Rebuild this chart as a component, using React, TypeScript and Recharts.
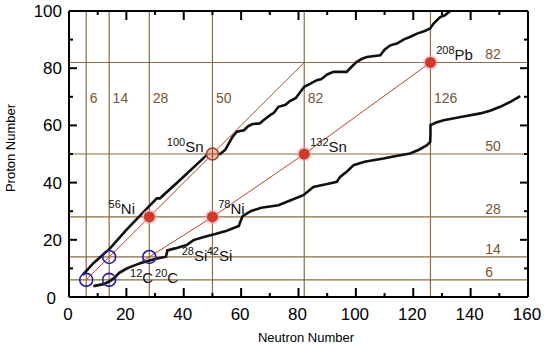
import { ComposedChart, Line, Scatter, XAxis, YAxis, ReferenceLine } from "recharts";

const FONT = "'Liberation Sans', Arial, Helvetica, sans-serif";
const MAGIC_COLOR = "#8a6c48";
const MAGIC_TEXT = "#7a5430";

const X_TICKS = [0, 10, 20, 30, 40, 50, 60, 70, 80, 90, 100, 110, 120, 130, 140, 150, 160];
const Y_TICKS = [0, 10, 20, 30, 40, 50, 60, 70, 80, 90, 100];

const MAGIC_N = [6, 14, 28, 50, 82, 126];
const MAGIC_Z = [6, 14, 28, 50, 82];

// proton drip line (upper)
const PROTON_DRIP = [
  { n: 4.8, z: 7.7 }, { n: 8.5, z: 11.8 }, { n: 14.3, z: 17 }, { n: 20, z: 23.5 },
  { n: 27.7, z: 31.5 }, { n: 30.6, z: 34.5 }, { n: 31.7, z: 34.5 }, { n: 38.7, z: 40.9 },
  { n: 48, z: 49.6 }, { n: 49.5, z: 50 }, { n: 52.7, z: 50 }, { n: 54.5, z: 51.5 },
  { n: 57, z: 56 }, { n: 58.5, z: 57.8 }, { n: 61, z: 58.3 }, { n: 62.5, z: 59.8 },
  { n: 64, z: 60.5 }, { n: 66.5, z: 60.7 }, { n: 68, z: 62 }, { n: 70, z: 63.5 },
  { n: 71.5, z: 64.5 }, { n: 73, z: 66.5 }, { n: 75.5, z: 67.2 }, { n: 77, z: 68.5 },
  { n: 79, z: 69.5 }, { n: 82, z: 73.5 }, { n: 84, z: 74.5 }, { n: 86.4, z: 75.8 },
  { n: 88, z: 76.2 }, { n: 90, z: 77.8 }, { n: 92.2, z: 78.7 }, { n: 96.8, z: 78.7 },
  { n: 98.5, z: 80.5 }, { n: 100.3, z: 82.2 }, { n: 102, z: 83.2 }, { n: 103.8, z: 83.9 },
  { n: 108.5, z: 84.5 }, { n: 110, z: 86.5 }, { n: 112, z: 88 }, { n: 114.3, z: 88.6 },
  { n: 116.6, z: 90 }, { n: 119, z: 91 }, { n: 121.3, z: 92.1 }, { n: 124, z: 93 },
  { n: 125.9, z: 93.9 }, { n: 127, z: 95.5 }, { n: 129.4, z: 97.9 }, { n: 131, z: 98.5 },
  { n: 132.9, z: 100 },
];

// neutron drip line (lower)
const NEUTRON_DRIP = [
  { n: 8.5, z: 3.8 }, { n: 12, z: 4.5 }, { n: 14.2, z: 5.5 }, { n: 16, z: 6.8 },
  { n: 17.5, z: 8.5 }, { n: 20.1, z: 10 }, { n: 24, z: 11.5 }, { n: 27.5, z: 12.6 },
  { n: 30, z: 13.3 }, { n: 33.8, z: 14.1 }, { n: 34.3, z: 16.3 }, { n: 37, z: 17 },
  { n: 41, z: 18.2 }, { n: 43.4, z: 19.9 }, { n: 47, z: 21 }, { n: 51, z: 22 },
  { n: 55, z: 23.2 }, { n: 59.2, z: 24.8 }, { n: 59.8, z: 26.5 }, { n: 60.5, z: 28.3 },
  { n: 63.5, z: 30.1 }, { n: 67, z: 31.2 }, { n: 73, z: 32.1 }, { n: 76, z: 33.3 },
  { n: 81.7, z: 35.6 }, { n: 84, z: 37.5 }, { n: 85.2, z: 38.5 }, { n: 90, z: 39.5 },
  { n: 93.4, z: 40.3 }, { n: 94.5, z: 42 }, { n: 97, z: 44 }, { n: 99.2, z: 46.1 },
  { n: 103, z: 47.3 }, { n: 109.6, z: 48.4 }, { n: 114, z: 49.3 }, { n: 118.9, z: 50.2 },
  { n: 122, z: 51.5 }, { n: 124.8, z: 53.1 }, { n: 125.9, z: 54.2 }, { n: 126, z: 57 },
  { n: 126, z: 60.1 }, { n: 128, z: 61 }, { n: 130.6, z: 61.8 }, { n: 137, z: 63 },
  { n: 143.4, z: 64.2 }, { n: 147, z: 65.2 }, { n: 150.3, z: 66.5 }, { n: 154, z: 68.3 },
  { n: 157.3, z: 70.2 },
];

const NZ_LINE = [{ n: 6, z: 6 }, { n: 82, z: 82 }];
const MAGIC_PATH = [
  { n: 14, z: 6 }, { n: 28, z: 14 }, { n: 50, z: 28 }, { n: 82, z: 50 }, { n: 126, z: 82 },
];

const RED_NUCLEI = [{ n: 28, z: 28 }, { n: 50, z: 28 }, { n: 82, z: 50 }, { n: 126, z: 82 }];
const SN100 = [{ n: 50, z: 50 }];
const LIGHT_NUCLEI = [{ n: 6, z: 6 }, { n: 14, z: 6 }, { n: 14, z: 14 }, { n: 28, z: 14 }];

const NUCLIDE_LABELS = [
  { n: 23, z: 29, mass: "56", sym: "Ni", anchor: "end" },
  { n: 52, z: 29, mass: "78", sym: "Ni", anchor: "start" },
  { n: 21.3, z: 4.9, mass: "12", sym: "C", anchor: "start" },
  { n: 30, z: 4.9, mass: "20", sym: "C", anchor: "start" },
  { n: 39.3, z: 12.6, mass: "28", sym: "Si", anchor: "start" },
  { n: 48, z: 12.6, mass: "42", sym: "Si", anchor: "start" },
  { n: 34.1, z: 50.6, mass: "100", sym: "Sn", anchor: "start" },
  { n: 84.1, z: 50.6, mass: "132", sym: "Sn", anchor: "start" },
  { n: 128, z: 82.8, mass: "208", sym: "Pb", anchor: "start" },
];

const N_MAGIC_LABELS = MAGIC_N.map((m) => ({ n: m + 1.2, z: 67.8, text: String(m) }));
const Z_MAGIC_LABELS = MAGIC_Z.map((m) => ({ n: 145.1, z: m + 1.1, text: String(m) }));

function BottomTick(props: any) {
  const { x, y, payload } = props;
  const major = payload.value % 20 === 0;
  return (
    <g>
      <line x1={x} y1={y} x2={x} y2={y - (major ? 9 : 4)} stroke="#000" strokeWidth={2} />
      {major && (
        <text x={x - 1} y={y + 23} textAnchor="middle" fontSize={17} fontFamily={FONT} fill="#000">
          {payload.value}
        </text>
      )}
    </g>
  );
}

function TopTick(props: any) {
  const { x, y, payload } = props;
  const major = payload.value % 20 === 0;
  return <line x1={x} y1={y} x2={x} y2={y + (major ? 9 : 4)} stroke="#000" strokeWidth={2} />;
}

function LeftTick(props: any) {
  const { x, y, payload } = props;
  const major = payload.value % 20 === 0;
  return (
    <g>
      <line x1={x} y1={y} x2={x + (major ? 8 : 4)} y2={y} stroke="#000" strokeWidth={2} />
      {major && (
        <text
          x={payload.value === 0 ? x - 13 : x - 7}
          y={payload.value === 0 ? y + 7 : y + 6}
          textAnchor="end"
          fontSize={17}
          fontFamily={FONT}
          fill="#000"
        >
          {payload.value}
        </text>
      )}
    </g>
  );
}

function RightTick(props: any) {
  const { x, y, payload } = props;
  const major = payload.value % 20 === 0;
  return <line x1={x} y1={y} x2={x - (major ? 8 : 4)} y2={y} stroke="#000" strokeWidth={2} />;
}

function RedDot(props: any) {
  const { cx, cy } = props;
  return (
    <g>
      <circle cx={cx} cy={cy} r={7.5} fill="#f7a0b4" opacity={0.5} />
      <circle cx={cx} cy={cy} r={5.5} fill="#cf3a2a" />
    </g>
  );
}

function SnDot(props: any) {
  const { cx, cy } = props;
  return (
    <g>
      <circle cx={cx} cy={cy} r={6} fill="#f4b8a8" stroke="#a0402a" strokeWidth={1.5} />
      <line x1={cx - 6} y1={cy} x2={cx + 6} y2={cy} stroke="#8a4a30" strokeWidth={1} />
      <line x1={cx} y1={cy - 6} x2={cx} y2={cy + 6} stroke="#8a4a30" strokeWidth={1} />
    </g>
  );
}

function BlueRing(props: any) {
  const { cx, cy } = props;
  return <circle cx={cx} cy={cy} r={6.5} fill="none" stroke="#2a1a9a" strokeWidth={1.6} />;
}

function NoMark() {
  return <g />;
}

function NuclideLabel(props: any) {
  const { cx, cy, payload } = props;
  return (
    <text x={cx} y={cy} textAnchor={payload.anchor} fontFamily={FONT} fill="#111">
      <tspan fontSize={11} dy={-6}>{payload.mass}</tspan>
      <tspan fontSize={15} dy={6}>{payload.sym}</tspan>
    </text>
  );
}

function MagicLabel(props: any) {
  const { cx, cy, payload } = props;
  return (
    <text x={cx} y={cy} fontSize={14} fontFamily={FONT} fill={MAGIC_TEXT}>
      {payload.text}
    </text>
  );
}

export default function App() {
  return (
    <div style={{ position: "absolute", left: 0, top: 0, width: 550, height: 348, fontFamily: FONT }}>
      <ComposedChart width={550} height={348} margin={{ top: 10, right: 21, bottom: 0, left: 0 }}>
        <XAxis
          dataKey="n"
          type="number"
          domain={[0, 160]}
          ticks={X_TICKS}
          interval={0}
          height={51}
          tickLine={false}
          tickSize={0}
          tickMargin={0}
          axisLine={{ stroke: "#000", strokeWidth: 2 }}
          tick={<BottomTick />}
          label={() => (
            <text x={306} y={342} textAnchor="middle" fontSize={13} fontFamily={FONT} fill="#000">
              Neutron Number
            </text>
          )}
        />
        <XAxis
          xAxisId="top"
          orientation="top"
          dataKey="n"
          type="number"
          domain={[0, 160]}
          ticks={X_TICKS}
          interval={0}
          height={1}
          tickLine={false}
          tickSize={0}
          tickMargin={0}
          axisLine={{ stroke: "#000", strokeWidth: 2 }}
          tick={<TopTick />}
        />
        <YAxis
          dataKey="z"
          type="number"
          domain={[0, 100]}
          ticks={Y_TICKS}
          interval={0}
          width={69}
          tickLine={false}
          tickSize={0}
          tickMargin={0}
          axisLine={{ stroke: "#000", strokeWidth: 2 }}
          tick={<LeftTick />}
          label={() => (
            <text
              x={15}
              y={148}
              transform="rotate(-90 15 148)"
              textAnchor="middle"
              fontSize={13}
              fontFamily={FONT}
              fill="#000"
            >
              Proton Number
            </text>
          )}
        />
        <YAxis
          yAxisId="right"
          orientation="right"
          dataKey="z"
          type="number"
          domain={[0, 100]}
          ticks={Y_TICKS}
          interval={0}
          width={1}
          tickLine={false}
          tickSize={0}
          tickMargin={0}
          axisLine={{ stroke: "#000", strokeWidth: 2 }}
          tick={<RightTick />}
        />

        {MAGIC_N.map((m) => (
          <ReferenceLine key={"n" + m} x={m} stroke={MAGIC_COLOR} strokeWidth={1.2} />
        ))}
        {MAGIC_Z.map((m) => (
          <ReferenceLine key={"z" + m} y={m} stroke={MAGIC_COLOR} strokeWidth={1.2} />
        ))}

        <Line data={NZ_LINE} dataKey="z" stroke="#b3472c" strokeWidth={1} dot={false} isAnimationActive={false} />
        <Line data={MAGIC_PATH} dataKey="z" stroke="#b3472c" strokeWidth={1} dot={false} isAnimationActive={false} />
        <Line data={PROTON_DRIP} dataKey="z" stroke="#111" strokeWidth={2.6} dot={false} isAnimationActive={false} />
        <Line data={NEUTRON_DRIP} dataKey="z" stroke="#111" strokeWidth={2.6} dot={false} isAnimationActive={false} />

        {/* keeps the mirrored top/right axes bound to a series so they get drawn */}
        <Scatter data={LIGHT_NUCLEI} dataKey="z" xAxisId="top" yAxisId="right" shape={<NoMark />} isAnimationActive={false} />

        <Scatter data={RED_NUCLEI} dataKey="z" shape={<RedDot />} isAnimationActive={false} />
        <Scatter data={SN100} dataKey="z" shape={<SnDot />} isAnimationActive={false} />
        <Scatter data={LIGHT_NUCLEI} dataKey="z" shape={<BlueRing />} isAnimationActive={false} />
        <Scatter data={NUCLIDE_LABELS} dataKey="z" shape={<NuclideLabel />} isAnimationActive={false} />
        <Scatter data={N_MAGIC_LABELS} dataKey="z" shape={<MagicLabel />} isAnimationActive={false} />
        <Scatter data={Z_MAGIC_LABELS} dataKey="z" shape={<MagicLabel />} isAnimationActive={false} />
      </ComposedChart>
    </div>
  );
}
